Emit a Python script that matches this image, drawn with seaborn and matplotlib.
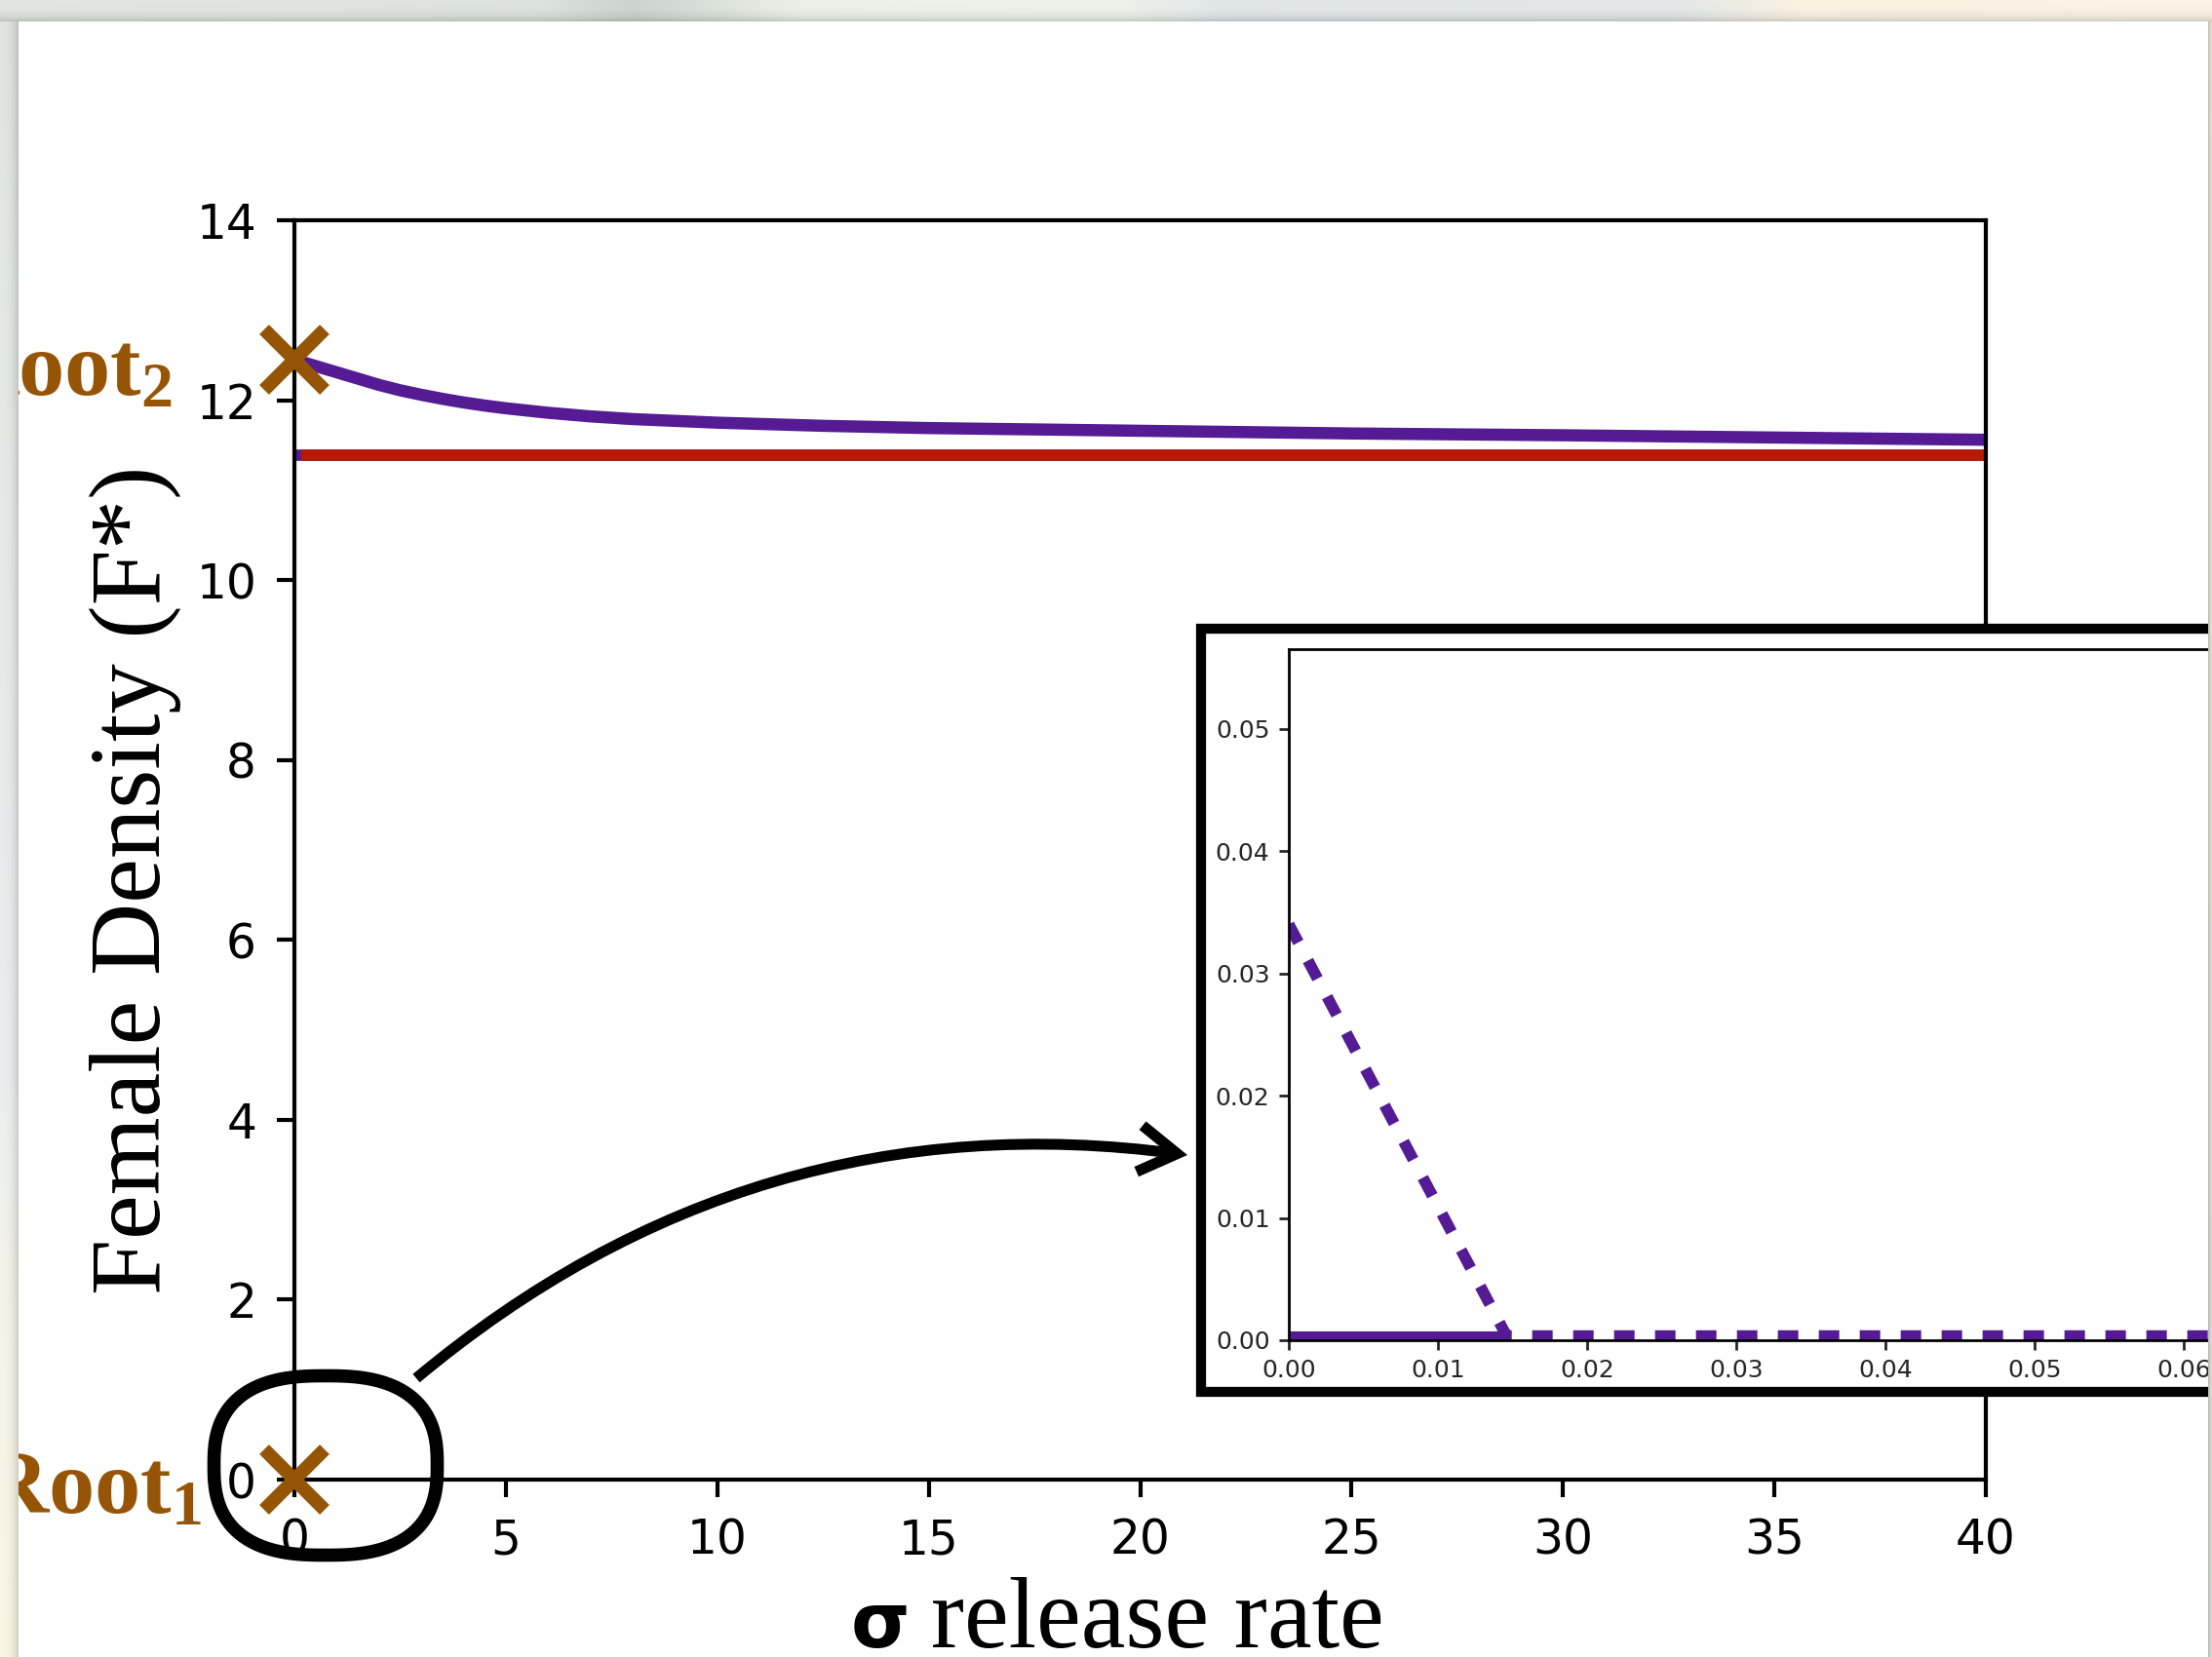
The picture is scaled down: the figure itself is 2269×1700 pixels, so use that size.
import numpy as np
import matplotlib
matplotlib.use("Agg")
import matplotlib.pyplot as plt
from matplotlib.patches import Rectangle, FancyArrowPatch, PathPatch, ArrowStyle
from matplotlib.path import Path
import seaborn as sns

# ---------------------------------------------------------------- data
# upper (stable) equilibrium of female density vs. release rate sigma
sigma_upper = [0, 0.25, 0.5, 0.75, 1, 1.25, 1.5, 1.75, 2, 2.5, 3, 3.5, 4,
               4.5, 5, 6, 7, 8, 9, 10, 12.5, 15, 20, 25, 30, 35, 40]
f_upper = [12.45, 12.415, 12.38, 12.345, 12.31, 12.275, 12.24, 12.205,
           12.17, 12.11, 12.06, 12.015, 11.975, 11.94, 11.91, 11.86, 11.82,
           11.79, 11.77, 11.75, 11.715, 11.69, 11.66, 11.63, 11.61, 11.585,
           11.56]

# reference level
sigma_level = [0.15, 40]
f_level = [11.39, 11.39]
sigma_level_under = [0, 40]

# inset: behaviour close to sigma = 0
sigma_low_solid = [0.0, 0.0148]
f_low_solid = [0.00035, 0.00035]
sigma_low_dash = [0.0, 0.0146, 0.07]
f_low_dash = [0.034, 0.00035, 0.00035]

# the two roots at sigma = 0
root_sigma = [0, 0]
root_f = [12.45, 0.0]

main_xticks = list(range(0, 41, 5))
main_yticks = list(range(0, 15, 2))
inset_xticks = [0.00, 0.01, 0.02, 0.03, 0.04, 0.05, 0.06, 0.07]
inset_yticks = [0.00, 0.01, 0.02, 0.03, 0.04, 0.05]

PURPLE = "#541B94"
RED = "#B81A04"
BROWN = "#965506"

# ---------------------------------------------------------------- style
sns.set_style("ticks")
plt.rcParams["font.family"] = ["DejaVu Sans"]
plt.rcParams["mathtext.fontset"] = "custom"
plt.rcParams["mathtext.rm"] = "Liberation Serif"
plt.rcParams["mathtext.it"] = "Liberation Serif:italic"
plt.rcParams["mathtext.bf"] = "Liberation Serif:bold"

W, H = 2269, 1700
DPI = 200
fig = plt.figure(figsize=(W / DPI, H / DPI), dpi=DPI, facecolor="white")


def fx(px):
    return px / W


def fy(py):
    return 1 - py / H


# ---------------------------------------------------------------- main axes
ax = fig.add_axes([fx(302), fy(1518), fx(2037) - fx(302), fy(226) - fy(1518)])
ax.set_facecolor("white")

sns.lineplot(x=sigma_level_under, y=f_level, ax=ax, color=PURPLE, lw=4.2,
             solid_capstyle="butt")
sns.lineplot(x=sigma_level, y=f_level, ax=ax, color=RED, lw=4.2,
             solid_capstyle="butt")
sns.lineplot(x=sigma_upper, y=f_upper, ax=ax, color=PURPLE, lw=4.5,
             solid_capstyle="butt", solid_joinstyle="round")
ax.plot(root_sigma, root_f, linestyle="none", marker="x", markersize=22,
        markeredgewidth=5.0, color=BROWN, clip_on=False, zorder=6)

ax.set_xlim(0, 40)
ax.set_ylim(0, 14)
ax.set_xticks(main_xticks)
ax.set_yticks(main_yticks)
ax.tick_params(axis="both", which="major", length=6.5, width=1.5,
               labelsize=17.5, pad=7.5, color="black", labelcolor="black")
for sp in ax.spines.values():
    sp.set_visible(True)
    sp.set_linewidth(1.5)
    sp.set_color("black")
ax.set_xlabel("")
ax.set_ylabel("")

# axis titles
fig.text(fx(164), fy(903), "Female Density (F*)", rotation=90,
         rotation_mode="anchor", ha="center", va="baseline",
         fontfamily="Liberation Serif", fontsize=37, color="black")
fig.text(fx(873), fy(1690), "σ", ha="left", va="baseline",
         fontfamily="DejaVu Sans", fontweight="bold", fontsize=28,
         color="black")
fig.text(fx(955), fy(1690), "release rate", ha="left", va="baseline",
         fontfamily="Liberation Serif", fontsize=37, color="black")

# root labels
fig.text(fx(177), fy(405), r"Root$_\mathbf{2}$", ha="right", va="baseline",
         fontfamily="Liberation Serif", fontweight="bold", fontsize=34,
         color=BROWN)
fig.text(fx(208), fy(1552), r"Root$_\mathbf{1}$", ha="right", va="baseline",
         fontfamily="Liberation Serif", fontweight="bold", fontsize=34,
         color=BROWN)

# ---------------------------------------------------------------- inset
frame = Rectangle((fx(1232), fy(1428)), 1.2, fy(645) - fy(1428),
                  transform=fig.transFigure, facecolor="white",
                  edgecolor="black", linewidth=3.7, zorder=2)
fig.add_artist(frame)

ins = fig.add_axes([fx(1322), fy(1375), fx(1322 + 0.07 * 15300) - fx(1322),
                    fy(666) - fy(1375)])
ins.set_zorder(3)
ins.set_facecolor("white")
sns.lineplot(x=sigma_low_solid, y=f_low_solid, ax=ins, color=PURPLE, lw=4.0,
             solid_capstyle="butt")
sns.lineplot(x=sigma_low_dash, y=f_low_dash, ax=ins, color=PURPLE, lw=4.2,
             linestyle=(0, (1.8, 1.8)), dash_capstyle="butt")
ins.set_xlim(0, 0.07)
ins.set_ylim(0, 0.0565)
ins.set_xticks(inset_xticks)
ins.set_yticks(inset_yticks)
ins.xaxis.set_major_formatter(matplotlib.ticker.FormatStrFormatter("%.2f"))
ins.yaxis.set_major_formatter(matplotlib.ticker.FormatStrFormatter("%.2f"))
ins.tick_params(axis="both", length=3.5, width=1.0, labelsize=9, pad=3.5)
for sp in ins.spines.values():
    sp.set_visible(True)
    sp.set_linewidth(1.0)
    sp.set_color("black")
ins.set_xlabel("")
ins.set_ylabel("")

# ---------------------------------------------------------------- callouts
t = np.linspace(0, 2 * np.pi, 400)
c, s = np.cos(t), np.sin(t)
n = 2.6
xp = 334 + 114.5 * np.sign(c) * np.abs(c) ** (2 / n)
yp = 1503.5 + 92 * np.sign(s) * np.abs(s) ** (2 / n)
ring = PathPatch(Path(np.column_stack([xp / W, 1 - yp / H]), closed=True),
                 transform=fig.transFigure, fill=False, edgecolor="black",
                 linewidth=4.9, zorder=5)
fig.add_artist(ring)

arrow = FancyArrowPatch((fx(427), fy(1414)), (fx(1218), fy(1185)),
                        transform=fig.transFigure,
                        connectionstyle="arc3,rad=-0.22",
                        arrowstyle=ArrowStyle("->", head_length=14,
                                              head_width=8.6),
                        mutation_scale=1, shrinkA=0, shrinkB=0,
                        linewidth=4.0, color="black", joinstyle="miter",
                        capstyle="butt", zorder=5)
fig.add_artist(arrow)

# ---------------------------------------------------------------- window edge
bg = np.zeros((H, W, 4), dtype=float)
tx = [0, 550, 650, 820, 1150, 1250, 1720, 1840, 2269]
tc = np.array([(226, 231, 226), (222, 228, 222), (205, 213, 206),
               (236, 242, 233), (238, 243, 236), (226, 231, 234),
               (228, 232, 232), (251, 243, 228), (252, 244, 230)], float)
ly = [0, 300, 700, 1100, 1400, 1700]
lc = np.array([(224, 229, 224), (228, 234, 230), (232, 237, 236),
               (236, 240, 240), (248, 246, 232), (250, 247, 230)], float)
xs = np.arange(W)
ys = np.arange(H)
top_cols = np.stack([np.interp(xs, tx, tc[:, k]) for k in range(3)], axis=1)
left_cols = np.stack([np.interp(ys, ly, lc[:, k]) for k in range(3)], axis=1)
px0, py0, px1 = 19, 22, 2265
# top band
for y in range(py0):
    d = py0 - y
    shade = 1 - 0.16 * np.exp(-(d - 1) / 5.0)
    bg[y, :, :3] = top_cols * shade
    bg[y, :, 3] = 255
# left band
for x in range(px0):
    d = px0 - x
    shade = 1 - 0.16 * np.exp(-(d - 1) / 5.0)
    bg[py0:, x, :3] = left_cols[py0:] * shade
    bg[py0:, x, 3] = 255
# right band
right_cols = np.stack([np.interp(ys, [0, 1700], [250, 236]),
                       np.interp(ys, [0, 1700], [244, 238]),
                       np.interp(ys, [0, 1700], [230, 232])], axis=1)
for x in range(px1, W):
    d = x - px1 + 1
    shade = 1 - 0.22 * np.exp(-(d - 1) / 3.0)
    bg[py0:, x, :3] = right_cols[py0:] * shade
    bg[py0:, x, 3] = 255
fig.figimage(np.clip(bg, 0, 255).astype(np.uint8), xo=0, yo=0,
             origin="upper", zorder=20)

fig.savefig("out.png", dpi=DPI, facecolor="white")
